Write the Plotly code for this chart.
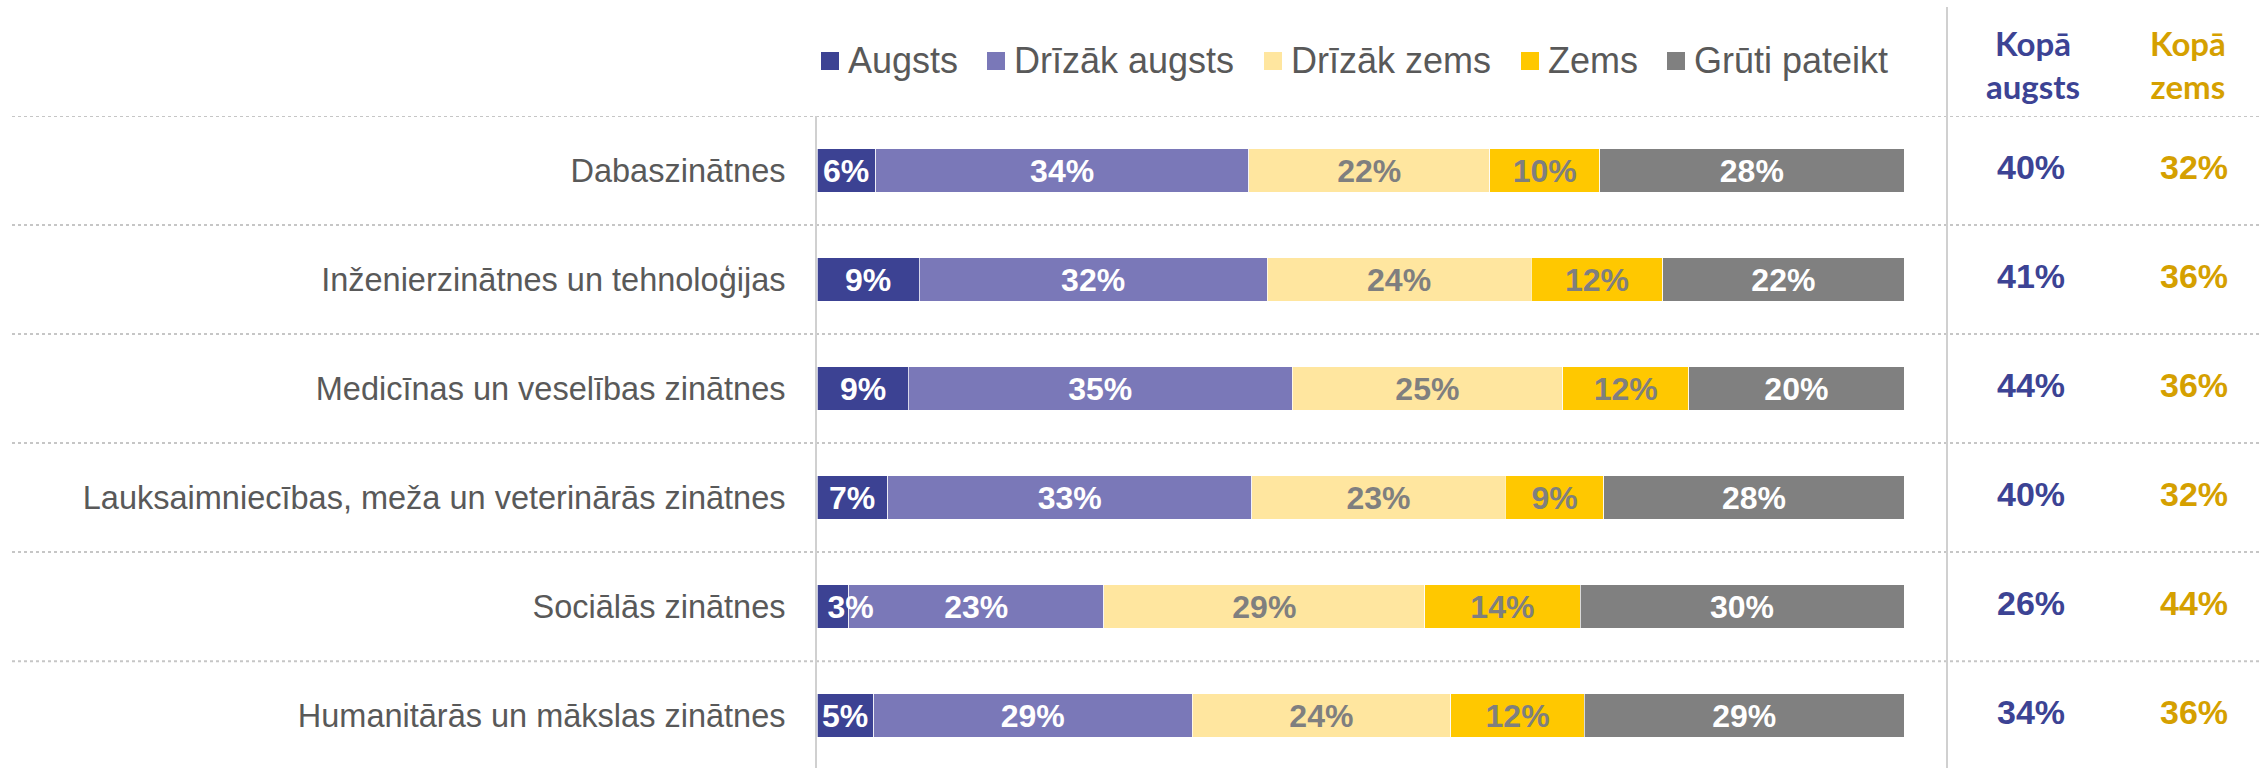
import plotly.graph_objects as go

# ---------------- data ----------------
categories = [
    "Dabaszinātnes",
    "Inženierzinātnes un tehnoloģijas",
    "Medicīnas un veselības zinātnes",
    "Lauksaimniecības, meža un veterinārās zinātnes",
    "Sociālās zinātnes",
    "Humanitārās un mākslas zinātnes",
]
series_names = ["Augsts", "Drīzāk augsts", "Drīzāk zems", "Zems", "Grūti pateikt"]

augsts         = [5.4, 9.4, 8.4, 6.5, 2.9, 5.2]
drizak_augsts  = [34.3, 32.0, 35.3, 33.5, 23.5, 29.3]
drizak_zems    = [22.2, 24.3, 24.9, 23.3, 29.5, 23.8]
zems           = [10.1, 12.1, 11.6, 9.1, 14.3, 12.3]
gruti_pateikt  = [28.0, 22.2, 19.8, 27.6, 29.8, 29.4]

augsts_lbl        = ["6%", "9%", "9%", "7%", "3%", "5%"]
drizak_augsts_lbl = ["34%", "32%", "35%", "33%", "23%", "29%"]
drizak_zems_lbl   = ["22%", "24%", "25%", "23%", "29%", "24%"]
zems_lbl          = ["10%", "12%", "12%", "9%", "14%", "12%"]
gruti_lbl         = ["28%", "22%", "20%", "28%", "30%", "29%"]

kopa_augsts = ["40%", "41%", "44%", "40%", "26%", "34%"]
kopa_zems   = ["32%", "36%", "36%", "32%", "44%", "36%"]
header_augsts = "Kopā<br>augsts"
header_zems = "Kopā<br>zems"

# ---------------- styles ----------------
colors = ["#3c4293", "#7a78b8", "#ffe69f", "#ffc800", "#808080"]
label_colors = ["#ffffff", "#ffffff", "#7f7f7f", "#7f7f7f", "#ffffff"]
blue_txt = "#3c4394"
gold_txt = "#d5a000"
grey_txt = "#595959"
FONT = "Liberation Sans, Arial, sans-serif"

W, H = 2262, 768
L, T = 817, 116
PX_PER_UNIT = 10.87
plot_w = W - L
plot_h = H - T
x_max = plot_w / PX_PER_UNIT

def px_to_xdata(px):
    return (px - L) / PX_PER_UNIT

def py_to_paper(py):
    return 1 + (T - py) / plot_h

values = [augsts, drizak_augsts, drizak_zems, zems, gruti_pateikt]
labels = [augsts_lbl, drizak_augsts_lbl, drizak_zems_lbl, zems_lbl, gruti_lbl]

fig = go.Figure()
for k, (name, vals, lbls, col, lcol) in enumerate(zip(series_names, values, labels, colors, label_colors)):
    in_bar_text = k > 0  # first series' labels are drawn on top (they may overflow thin segments)
    fig.add_trace(go.Bar(
        y=categories, x=vals, name=name, orientation="h",
        marker=dict(color=col, line=dict(color="rgba(255,255,255,0.7)", width=1)),
        text=lbls if in_bar_text else None,
        textposition="inside" if in_bar_text else "none", insidetextanchor="middle",
        constraintext="none", textangle=0, cliponaxis=False,
        insidetextfont=dict(family=FONT, size=32, color=lcol, weight="bold"),
        textfont=dict(family=FONT, size=32, color=lcol, weight="bold"),
        width=0.4, showlegend=False, hoverinfo="skip",
    ))

# Totals columns
fig.add_trace(go.Scatter(
    y=categories, x=[px_to_xdata(2031)] * len(categories), mode="text",
    text=kopa_augsts, textposition="middle center", cliponaxis=False,
    textfont=dict(family=FONT, size=34, color=blue_txt, weight="bold"),
    showlegend=False, hoverinfo="skip",
))
fig.add_trace(go.Scatter(
    y=categories, x=[px_to_xdata(2194)] * len(categories), mode="text",
    text=kopa_zems, textposition="middle center", cliponaxis=False,
    textfont=dict(family=FONT, size=34, color=gold_txt, weight="bold"),
    showlegend=False, hoverinfo="skip",
))

shapes = []
annotations = []

# labels of the first (dark blue) series, centred on their segments and drawn above all bars;
# a label too wide for its thin segment is nudged right, as in the original
NBSP = "\u00a0"
for cat, v, lbl in zip(categories, augsts, augsts_lbl):
    annotations.append(dict(
        text=(NBSP * 4 + lbl) if v < 4 else lbl,
        xref="x", yref="y", x=v / 2, y=cat, xanchor="center", yanchor="middle",
        showarrow=False,
        font=dict(family=FONT, size=32, color=label_colors[0], weight="bold")))

# dotted separators between rows
for i in range(len(categories)):
    shapes.append(dict(type="line", xref="paper", yref="y",
                       x0=(12 - L) / plot_w, x1=1, y0=i - 0.5, y1=i - 0.5,
                       line=dict(color="#c6c6c6", width=2, dash="dot"), layer="below"))

# vertical separator before totals
shapes.append(dict(type="line", xref="x", yref="paper",
                   x0=px_to_xdata(1947), x1=px_to_xdata(1947), y0=0, y1=py_to_paper(7),
                   line=dict(color="#d0d0d0", width=2), layer="below"))

# headers
annotations.append(dict(text=header_augsts, xref="x", yref="paper", x=px_to_xdata(2033),
                        y=py_to_paper(64), xanchor="center", yanchor="middle", showarrow=False,
                        font=dict(family="Lato, Open Sans, sans-serif", size=33, color=blue_txt, weight="bold")))
annotations.append(dict(text=header_zems, xref="x", yref="paper", x=px_to_xdata(2188),
                        y=py_to_paper(64), xanchor="center", yanchor="middle", showarrow=False,
                        font=dict(family="Lato, Open Sans, sans-serif", size=33, color=gold_txt, weight="bold")))

# legend (manual, to match the reference spacing)
legend_left_px = [821, 987, 1264, 1521, 1667]
sq = 18
legend_y = 61
for name, col, lx in zip(series_names, colors, legend_left_px):
    shapes.append(dict(type="rect", xref="x", yref="paper",
                       x0=px_to_xdata(lx), x1=px_to_xdata(lx + sq),
                       y0=py_to_paper(legend_y + sq / 2), y1=py_to_paper(legend_y - sq / 2),
                       fillcolor=col, line=dict(width=0)))
    annotations.append(dict(text=name, xref="x", yref="paper", x=px_to_xdata(lx + sq + 7),
                            y=py_to_paper(legend_y), xanchor="left", yanchor="middle",
                            showarrow=False, font=dict(family=FONT, size=36, color=grey_txt)))

fig.update_layout(
    width=W, height=H,
    margin=dict(l=L, r=0, t=T, b=0, autoexpand=False),
    barmode="stack", bargap=0.6,
    paper_bgcolor="white", plot_bgcolor="white",
    shapes=shapes, annotations=annotations,
    showlegend=False,
    xaxis=dict(range=[0, x_max], visible=False, showgrid=False, zeroline=False, fixedrange=True),
    yaxis=dict(
        categoryorder="array", categoryarray=categories,
        range=[len(categories) - 0.52, -0.5],
        showgrid=False, zeroline=False,
        showline=True, linecolor="#d0d0d0", linewidth=2,
        ticks="", ticklabelstandoff=23,
        tickfont=dict(family=FONT, size=32.5, color=grey_txt),
        fixedrange=True,
    ),
)

fig.write_html("out.html",
               config={"displayModeBar": False},
               post_script="document.body.style.margin='0px';document.body.style.overflow='hidden';")
